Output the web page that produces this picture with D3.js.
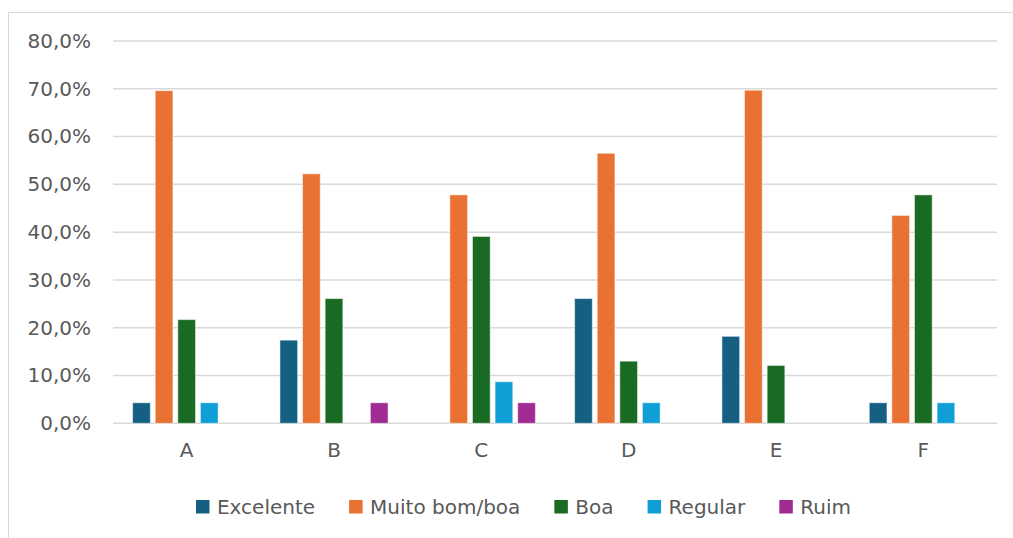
<!DOCTYPE html>
<html>
<head>
<meta charset="utf-8">
<script src="https://cdn.jsdelivr.net/npm/d3@7"></script>
<style>
  body { margin: 0; background: #fff; }
  svg { display: block; }
</style>
</head>
<body>
<script>
// chart data
var categories = ["A", "B", "C", "D", "E", "F"];
var seriesNames = ["Excelente", "Muito bom/boa", "Boa", "Regular", "Ruim"];
var excelente = [4.3, 17.4, 0, 26.1, 18.2, 4.3];
var muitoBom = [69.6, 52.2, 47.8, 56.5, 69.7, 43.5];
var boa = [21.7, 26.1, 39.1, 13.0, 12.1, 47.8];
var regular = [4.3, 0, 8.7, 4.3, 0, 4.3];
var ruim = [0, 4.3, 4.3, 0, 0, 0];
var yTicks = [0, 10, 20, 30, 40, 50, 60, 70, 80];
var colors = ["#156082", "#E97132", "#196B24", "#0F9ED5", "#A02B93"];

var allSeries = [excelente, muitoBom, boa, regular, ruim];

var W = 1013, H = 538;
var plotLeft = 113, plotRight = 997, plotTop = 41, plotBottom = 423.3;
var font = "'DejaVu Sans', sans-serif";

var svg = d3.select("body").append("svg")
    .attr("width", W)
    .attr("height", H);

// chart border
svg.append("rect")
    .attr("x", 8.5).attr("y", 12.5)
    .attr("width", W).attr("height", H)
    .attr("fill", "none")
    .attr("stroke", "#d9d9d9")
    .attr("stroke-width", 1);

var x0 = d3.scaleBand().domain(categories).range([plotLeft, plotRight]);
var x1 = d3.scaleBand().domain(seriesNames).range([0, x0.bandwidth()])
    .paddingInner(0.217).paddingOuter(0.867);
var y = d3.scaleLinear().domain([0, 80]).range([plotBottom, plotTop]);

// gridlines
svg.append("g")
    .selectAll("line")
    .data(yTicks)
    .enter()
    .append("line")
    .attr("x1", plotLeft).attr("x2", plotRight)
    .attr("y1", function (d) { return y(d); })
    .attr("y2", function (d) { return y(d); })
    .attr("stroke", "#d9d9d9")
    .attr("stroke-width", 1.5);

// y axis labels
var yAxis = d3.axisLeft(y)
    .tickValues(yTicks)
    .tickSize(0)
    .tickPadding(22)
    .tickFormat(function (d) { return d.toFixed(1).replace(".", ",") + "%"; });
var yg = svg.append("g")
    .attr("transform", "translate(" + plotLeft + ",0)")
    .call(yAxis);
yg.select(".domain").remove();
yg.selectAll("text")
    .style("font-family", font)
    .style("font-size", "20px")
    .attr("fill", "#595959");

// x axis labels
var xAxis = d3.axisBottom(x0).tickSize(0).tickPadding(20);
var xg = svg.append("g")
    .attr("transform", "translate(0," + plotBottom + ")")
    .call(xAxis);
xg.select(".domain").remove();
xg.selectAll("text")
    .style("font-family", font)
    .style("font-size", "20px")
    .attr("fill", "#595959");

// bars
var groups = svg.append("g")
    .selectAll("g")
    .data(categories)
    .enter()
    .append("g")
    .attr("transform", function (d) { return "translate(" + x0(d) + ",0)"; });

groups.selectAll("rect")
    .data(function (c, ci) {
        return seriesNames.map(function (s, si) {
            return { name: s, value: allSeries[si][ci], color: colors[si] };
        }).filter(function (d) { return d.value > 0; });
    })
    .enter()
    .append("rect")
    .attr("x", function (d) { return x1(d.name); })
    .attr("width", x1.bandwidth())
    .attr("y", function (d) { return y(d.value); })
    .attr("height", function (d) { return y(0) - y(d.value); })
    .attr("fill", function (d) { return d.color; })
    .attr("stroke", "#ffffff")
    .attr("stroke-opacity", 0.5)
    .attr("stroke-width", 1);

// legend
var legend = svg.append("g");
var items = legend.selectAll("g")
    .data(seriesNames)
    .enter()
    .append("g");
items.append("rect")
    .attr("width", 13.5).attr("height", 13.5)
    .attr("y", -7)
    .attr("fill", function (d, i) { return colors[i]; });
items.append("text")
    .attr("x", 21)
    .attr("dy", "0.35em")
    .style("font-family", font)
    .style("font-size", "20px")
    .attr("fill", "#595959")
    .text(function (d) { return d; });

var gap = 34;
var pos = 0;
items.each(function () {
    var g = d3.select(this);
    var w = 21 + g.select("text").node().getComputedTextLength();
    g.attr("transform", "translate(" + pos + ",0)");
    pos += w + gap;
});
var total = pos - gap;
legend.attr("transform", "translate(" + (523.5 - total / 2) + ",507)");
</script>
</body>
</html>
